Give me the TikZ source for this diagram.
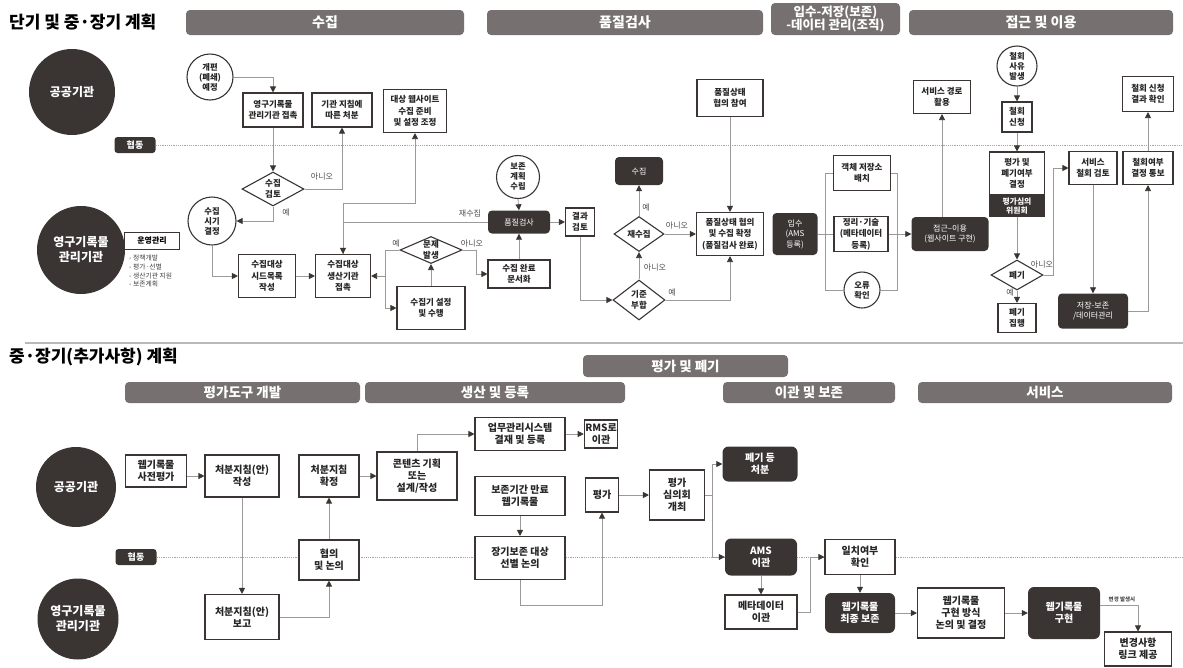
\documentclass[tikz,border=0pt]{standalone}
\usepackage{fontspec}
\setmainfont{Noto Sans CJK KR}
\usetikzlibrary{shapes.geometric,arrows.meta}

\definecolor{HdrGray}{HTML}{767070}
\definecolor{DarkBrown}{HTML}{3A3533}
\definecolor{LineGray}{HTML}{9A9A9A}

\tikzset{
	box/.style={draw=DarkBrown, line width=1.1pt, fill=white, text=black!85, align=center, inner sep=1pt, font=\fontsize{8.5}{11.3}\selectfont\bfseries},
	boxlarge/.style={box, font=\fontsize{10}{11.8}\selectfont\bfseries},
	darkbox/.style={fill=DarkBrown, text=white, rounded corners=4pt, align=center, inner sep=1pt, font=\fontsize{8}{10.5}\selectfont},
	darkboxlarge/.style={darkbox, rounded corners=6pt, font=\fontsize{10}{11.8}\selectfont\bfseries},
	ring/.style={circle, draw=DarkBrown, line width=1.1pt, fill=white, text=black!85, align=center, inner sep=0pt, font=\fontsize{8.3}{10}\selectfont\bfseries},
	choice/.style={diamond, aspect=1.8, draw=DarkBrown, line width=1.1pt, fill=white, text=black!85, align=center, inner sep=0pt, font=\fontsize{8.5}{10.5}\selectfont\bfseries},
	header/.style={fill=HdrGray, rounded corners=4pt, text=white, align=center, font=\fontsize{14}{16}\selectfont\bfseries, minimum height=25pt, inner sep=0pt},
	headersmall/.style={header, minimum height=21pt, font=\fontsize{13.5}{15}\selectfont\bfseries},
	actor/.style={circle, fill=DarkBrown, text=white, align=center, inner sep=0pt, font=\fontsize{12}{15}\selectfont\bfseries},
	coop/.style={fill=DarkBrown, text=white, rounded corners=3pt, minimum width=41pt, minimum height=16pt, inner sep=0pt, font=\fontsize{9}{10}\selectfont\bfseries},
	link/.style={draw=LineGray, line width=0.8pt},
	arr/.style={link, -{Triangle[length=6pt,width=6pt,color=DarkBrown]}},
	note/.style={font=\fontsize{8}{9}\selectfont, text=black!70, inner sep=1pt},
	lane/.style={draw=gray!70, line width=0.5pt, dash pattern=on 1.2pt off 1pt},
	sectitle/.style={anchor=west, inner sep=0pt, font=\fontsize{17}{19}\selectfont\bfseries},
}

\begin{document}
\begin{tikzpicture}[x=1pt,y=-1pt]
	\useasboundingbox (0,0) rectangle (1183,667);

	% upper plan
	\node[sectitle] (titleShort) at (9,22) {단기 및 중·장기 계획};
	\node[header, minimum width=278pt] (hCollect) at (325,22.5) {수집};
	\node[header, minimum width=276pt] (hQuality) at (625,22.5) {품질검사};
	\node[header, minimum width=129pt, minimum height=32pt, font=\fontsize{12.5}{13.5}\selectfont\bfseries] (hIngest) at (835.5,19) {입수-저장(보존)\\-데이터 관리(조직)};
	\node[header, minimum width=264pt] (hAccess) at (1041,22.5) {접근 및 이용};

	\node[actor, minimum size=86pt] (pubTop) at (72,92) {공공기관};
	\node[actor, minimum size=88pt] (narTop) at (81,250) {영구기록물\\관리기관};
	\node[coop] (coopTop) at (135,145) {협동};
	\coordinate (laneTopEnd) at (1183,145);
	\draw[lane] (coopTop.east) -- (laneTopEnd);

	\node[draw=DarkBrown, line width=0.8pt, font=\fontsize{8}{9}\selectfont\bfseries, minimum width=55pt, minimum height=17pt, inner sep=0pt] (ops) at (152,241) {운영관리};
	\node[anchor=north west, align=left, inner sep=0pt, text=black!75, font=\fontsize{6.8}{8.7}\selectfont] (opsList) at (129,255) {- 정책개발\\- 평가·선별\\- 생산기관 지원\\- 보존계획};

	\node[ring, minimum size=46pt] (reorg) at (210,77) {개편\\(폐쇄)\\예정};
	\node[box, minimum width=60pt, minimum height=34pt] (contact) at (273,110) {영구기록물\\관리기관 접촉};
	\node[box, minimum width=60pt, minimum height=34pt] (dispose) at (342,110) {기관 지침에\\따른 처분};
	\node[box, minimum width=63pt, minimum height=43pt] (website) at (415,111) {대상 웹사이트\\수집 준비\\및 설정 조정};
	\node[choice, minimum width=62pt, minimum height=34pt] (review) at (273,189) {수집\\검토};
	\node[ring, minimum size=48pt] (timing) at (212,221) {수집\\시기\\결정};
	\node[box, minimum width=57pt, minimum height=43pt] (seed) at (267,276) {수집대상\\시드목록\\작성};
	\node[box, minimum width=55pt, minimum height=43pt] (producer) at (343,276) {수집대상\\생산기관\\접촉};
	\node[choice, aspect=2.5, minimum width=62pt, minimum height=27pt] (problem) at (431,250) {문제\\발생};
	\node[box, minimum width=68pt, minimum height=43pt] (crawler) at (431,308) {수집기 설정\\및 수행};
	\node[box, minimum width=62pt, minimum height=28pt] (documented) at (519,274) {수집 완료\\문서화};

	\node[ring, minimum size=43pt] (plan) at (518,177) {보존\\계획\\수립};
	\node[darkbox, minimum width=62pt, minimum height=23pt] (qcheck) at (519,222) {품질검사};
	\node[box, minimum width=29pt, minimum height=28pt] (result) at (580,222) {결과\\검토};
	\node[choice, minimum width=52pt, minimum height=40pt] (criteria) at (639,300) {기준\\부합};
	\node[choice, minimum width=50pt, minimum height=35pt] (recollect) at (639,234) {재수집};
	\node[darkbox, minimum width=48pt, minimum height=28pt] (collect) at (639,171) {수집};
	\node[box, minimum width=67pt, minimum height=43pt] (confirm) at (730,234) {품질상태 협의\\및 수집 확정\\(품질검사 완료)};
	\node[box, minimum width=66pt, minimum height=37pt] (consult) at (730,98) {품질상태\\협의 참여};

	\node[darkbox, minimum width=45pt, minimum height=42pt] (ingest) at (795,234) {입수\\(AMS\\등록)};
	\node[box, minimum width=57pt, minimum height=35pt] (storage) at (862,173) {객체 저장소\\배치};
	\node[box, minimum width=54pt, minimum height=35pt] (describe) at (861,234) {정리·기술\\(메타데이터\\등록)};
	\node[ring, minimum size=36pt] (error) at (862,290) {오류\\확인};
	\node[darkbox, minimum width=77pt, minimum height=34pt] (access) at (950,234) {접근–이용\\(웹사이트 구현)};
	\node[box, minimum width=57pt, minimum height=33pt] (route) at (942,97) {서비스 경로\\활용};

	\node[ring, minimum size=40pt] (cause) at (1017,66) {철회\\사유\\발생};
	\node[box, minimum width=30pt, minimum height=30pt] (request) at (1017,117) {철회\\신청};
	\node[box, minimum width=55pt, minimum height=43pt] (decide) at (1017,173.5) {평가 및\\폐기여부\\결정};
	\node[anchor=north, fill=DarkBrown, draw=DarkBrown, line width=1.1pt, text=white, align=center, inner sep=0pt, minimum width=55pt, minimum height=20pt, font=\fontsize{7.8}{9.5}\selectfont\bfseries] (committee) at (decide.south) {평가심의\\위원회};
	\node[choice, minimum width=52pt, minimum height=30pt] (discard) at (1017,275) {폐기};
	\node[box, minimum width=38pt, minimum height=29pt] (execute) at (1017,318) {폐기\\집행};
	\node[box, minimum width=48pt, minimum height=33pt] (withdraw) at (1093,168) {서비스\\철회 검토};
	\node[darkbox, minimum width=70pt, minimum height=35pt] (archive) at (1093,311) {저장-보존\\/데이터관리};
	\node[box, minimum width=50pt, minimum height=33pt] (notify) at (1148,168) {철회여부\\결정 통보};
	\node[box, minimum width=51pt, minimum height=35pt] (outcome) at (1148,94) {철회 신청\\결과 확인};

	\node[note] (noReview) at (322,176) {아니오};
	\node[note] (yesReview) at (286,212) {예};
	\node[note] (againLabel) at (470,213) {재수집};
	\node[note] (yesProblem) at (396,243) {예};
	\node[note] (noProblem) at (472,243) {아니오};
	\node[note] (yesRecollect) at (646,207) {예};
	\node[note] (noRecollect) at (677,225) {아니오};
	\node[note] (noCriteria) at (655,267) {아니오};
	\node[note] (yesCriteria) at (672,292) {예};
	\node[note] (noDiscard) at (1042,264) {아니오};
	\node[note] (yesDiscard) at (1010,292) {예};

	\draw[arr] (reorg.east) -| (contact.north);
	\draw[arr] (contact.south) -- (review.north);
	\draw[arr] (review.east) -| (dispose.south);
	\draw[arr] (review.south) |- (timing.east);
	\draw[arr] (timing.south) |- (seed.west);
	\draw[arr] (seed.east) -- (producer.west);
	\draw[arr] (producer.north) -- (producer.north |- 0,203) -| (website.south);
	\draw[arr] (qcheck.west) -| (producer.north);
	\coordinate (split) at (385,276);
	\draw[arr] (problem.west) -| (split) -- (producer.east);
	\draw[arr] (split) |- (crawler.west);
	\draw[arr] (crawler.north) -- (problem.south);
	\draw[arr] (problem.east) -- ++(14,0) |- (documented.west);
	\draw[arr] (documented.north) -- (qcheck.south);
	\draw[arr] (plan.south) -- (qcheck.north);
	\draw[arr] (qcheck.east) -- (result.west);
	\draw[arr] (result.south) |- (criteria.west);
	\draw[arr] (criteria.north) -- (recollect.south);
	\draw[arr] (recollect.north) -- (collect.south);
	\draw[arr] (recollect.east) -- (confirm.west);
	\draw[arr] (criteria.east) -| (confirm.south);
	\draw[arr] (consult.south) -- (confirm.north);
	\coordinate (fanLeft) at (825,234);
	\coordinate (fanRight) at (897,234);
	\draw[link] (ingest.east) -- (describe.west);
	\draw[link] (storage.west) -| (fanLeft) |- (error.west);
	\draw[link] (storage.east) -| (fanRight) |- (error.east);
	\draw[arr] (describe.east) -- (access.west);
	\draw[arr] (route.south |- access.north) -- (route.south);
	\draw[arr] (cause.south) -- (request.north);
	\draw[arr] (request.south) -- (decide.north);
	\draw[arr] (committee.south) -- (discard.north);
	\draw[arr] (discard.south) -- (execute.north);
	\draw[arr] (discard.east) -- ++(10,0) |- (withdraw.west);
	\draw[arr] (withdraw.south) -- (archive.north);
	\draw[arr] (archive.east) -| (notify.south);
	\draw[arr] (notify.north) -- (outcome.south);

	\draw[gray!55, line width=1.5pt] (25,343) -- (1183,343);

	% lower plan
	\node[sectitle] (titleLong) at (9,357) {중·장기(추가사항) 계획};
	\node[headersmall, minimum width=205pt, minimum height=22pt] (hEval) at (685.5,366) {평가 및 폐기};
	\node[headersmall, minimum width=235pt] (hTool) at (242.5,392.5) {평가도구 개발};
	\node[headersmall, minimum width=260pt] (hProd) at (495,392.5) {생산 및 등록};
	\node[headersmall, minimum width=172pt] (hTrans) at (809,392.5) {이관 및 보존};
	\node[headersmall, minimum width=254pt] (hServ) at (1045,392.5) {서비스};

	\node[actor, minimum size=80pt] (pubBottom) at (76,487) {공공기관};
	\node[actor, minimum size=81pt] (narBottom) at (78,619) {영구기록물\\관리기관};
	\node[coop] (coopBottom) at (136,557) {협동};
	\coordinate (laneBottomEnd) at (1183,557);
	\draw[lane] (coopBottom.east) -- (laneBottomEnd);

	\node[boxlarge, minimum width=61pt, minimum height=32pt] (prescreen) at (156,471) {웹기록물\\사전평가};
	\node[boxlarge, minimum width=74pt, minimum height=42pt] (draft) at (242,476) {처분지침(안)\\작성};
	\node[boxlarge, minimum width=60pt, minimum height=42pt] (finalize) at (329,476) {처분지침\\확정};
	\node[boxlarge, minimum width=80pt, minimum height=48pt] (content) at (417,476) {콘텐츠 기획\\또는\\설계/작성};
	\node[boxlarge, minimum width=90pt, minimum height=33pt] (approve) at (520,434) {업무관리시스템\\결재 및 등록};
	\node[boxlarge, minimum width=32pt, minimum height=28pt] (rms) at (601,434) {RMS로\\이관};
	\node[boxlarge, minimum width=90pt, minimum height=39pt] (expired) at (520,496) {보존기간 만료\\웹기록물};
	\node[boxlarge, minimum width=90pt, minimum height=43pt] (select) at (520,558) {장기보존 대상\\선별 논의};
	\node[boxlarge, minimum width=33pt, minimum height=34pt] (evaluate) at (602,495) {평가};
	\node[boxlarge, minimum width=55pt, minimum height=50pt] (council) at (677,495) {평가\\심의회\\개최};
	\node[darkboxlarge, minimum width=75pt, minimum height=35pt] (destroy) at (760,464) {폐기 등\\처분};
	\node[darkboxlarge, minimum width=72pt, minimum height=37pt] (amsmove) at (761,557) {AMS\\이관};
	\node[boxlarge, minimum width=72pt, minimum height=34pt] (metamove) at (761,612) {메타데이터\\이관};
	\node[boxlarge, minimum width=70pt, minimum height=35pt] (match) at (860,557) {일치여부\\확인};
	\node[darkboxlarge, minimum width=70pt, minimum height=40pt] (preserve) at (860,613) {웹기록물\\최종 보존};
	\node[boxlarge, minimum width=87pt, minimum height=50pt] (method) at (961,613) {웹기록물\\구현 방식\\논의 및 결정};
	\node[darkboxlarge, minimum width=72pt, minimum height=52pt] (render) at (1064,613) {웹기록물\\구현};
	\node[boxlarge, minimum width=67pt, minimum height=34pt] (linkinfo) at (1138,649) {변경사항\\링크 제공};
	\node[boxlarge, minimum width=74pt, minimum height=45pt] (report) at (242,617) {처분지침(안)\\보고};
	\node[boxlarge, minimum width=60pt, minimum height=40pt] (discuss) at (329,560) {협의\\및 논의};
	\node[note, font=\fontsize{5.5}{6.5}\selectfont\bfseries] (changeLabel) at (1122,599) {변경 발생시};

	\draw[arr] (prescreen.east |- draft.west) -- (draft.west);
	\draw[arr] (draft.south) -- (report.north);
	\draw[arr] (report.east) -| (discuss.south);
	\draw[arr] (discuss.north) -- (finalize.south);
	\draw[arr] (finalize.east) -- (content.west);
	\draw[arr] (content.north) |- (approve.west);
	\draw[arr] (approve.east) -- (rms.west);
	\draw[arr] (expired.south) -- (select.north);
	\draw[arr] (select.south) -- ++(0,25) -| (evaluate.south);
	\draw[arr] (evaluate.east) -- (council.west);
	\coordinate (branch) at (712,495);
	\draw[link] (council.east) -- (branch);
	\draw[arr] (branch) |- (destroy.west);
	\draw[arr] (branch) |- (amsmove.west);
	\draw[arr] (amsmove.south) -- (metamove.north);
	\draw[arr] (metamove.east) -- ++(13,0) |- (match.west);
	\draw[arr] (match.south) -- (preserve.north);
	\draw[arr] (preserve.east) -- (method.west);
	\draw[arr] (method.east) -- (render.west);
	\draw[arr] (render.east |- 0,605) -| (linkinfo.north);
\end{tikzpicture}
\end{document}
